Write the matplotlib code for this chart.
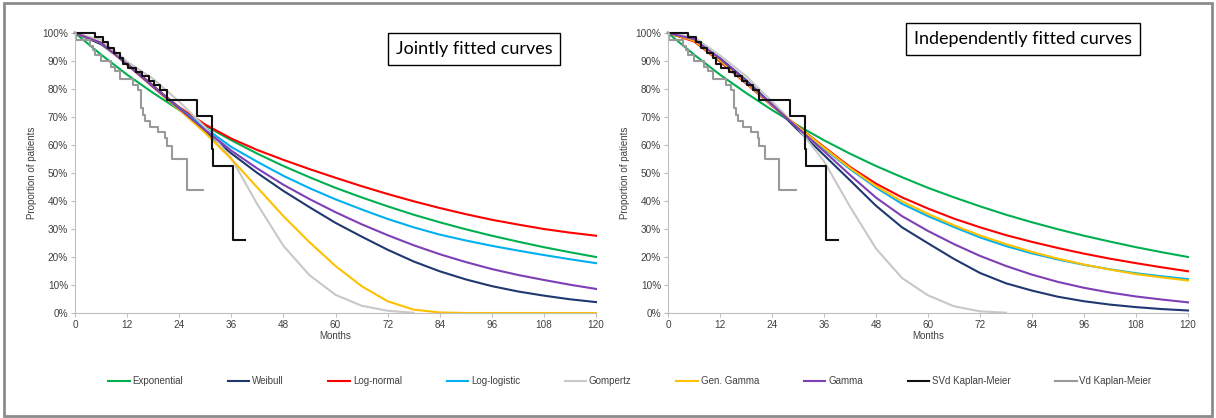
import matplotlib
matplotlib.use("Agg")
import matplotlib.pyplot as plt
from matplotlib.patches import Rectangle
from matplotlib.ticker import FuncFormatter

plt.rcParams['font.family'] = ['Liberation Sans', 'DejaVu Sans']

# months at which the fitted curves are read
months = [0, 6, 12, 18, 24, 30, 36, 42, 48, 54, 60, 66, 72, 78, 84, 90, 96, 102, 108, 114, 120]
gomp_months = [0, 6, 12, 18, 24, 30, 36, 42, 48, 54, 60, 66, 72, 78]

# jointly fitted curves (%)
exp_joint = [100, 92.3, 85.1, 78.6, 72.5, 66.9, 61.7, 56.9, 52.5, 48.5, 44.7, 41.3, 38.1, 35.1, 32.4, 29.9, 27.6, 25.5, 23.5, 21.7, 20.0]
weib_joint = [100, 96.0, 89.1, 81.2, 73.0, 64.8, 57.0, 50.0, 43.6, 37.8, 32.2, 27.3, 22.6, 18.4, 14.9, 12.0, 9.6, 7.7, 6.2, 4.9, 3.9]
lnorm_joint = [100, 96.5, 89.0, 81.0, 73.5, 67.3, 62.3, 58.2, 54.7, 51.4, 48.3, 45.3, 42.5, 39.9, 37.5, 35.3, 33.3, 31.6, 30.0, 28.7, 27.6]
llogis_joint = [100, 96.5, 88.8, 80.8, 73.2, 66.0, 59.3, 54.0, 49.0, 44.6, 40.6, 37.0, 33.6, 30.6, 28.0, 25.9, 24.0, 22.3, 20.7, 19.2, 17.8]
gomp_joint = [100, 97.6, 89.8, 83.6, 75.5, 66.3, 55.3, 38.8, 24.0, 13.5, 6.5, 2.6, 0.8, 0.1]
ggamma_joint = [100, 96.5, 88.6, 80.6, 72.6, 64.3, 55.0, 44.8, 34.6, 25.3, 16.8, 9.6, 4.2, 1.2, 0.2, 0, 0, 0, 0, 0, 0]
gamma_joint = [100, 96.5, 88.7, 80.7, 73.0, 65.3, 58.0, 51.6, 45.8, 40.7, 36.0, 31.7, 27.8, 24.2, 21.0, 18.2, 15.7, 13.6, 11.8, 10.1, 8.6]

# independently fitted curves (%)
exp_indep = [100, 92.3, 85.1, 78.6, 72.5, 66.9, 61.7, 56.9, 52.5, 48.5, 44.7, 41.3, 38.1, 35.1, 32.4, 29.9, 27.6, 25.5, 23.5, 21.7, 20.0]
weib_indep = [100, 97.4, 91.0, 83.2, 74.5, 65.3, 56.4, 47.4, 38.3, 30.6, 24.9, 19.3, 14.3, 10.6, 8.0, 5.8, 4.2, 3.0, 2.1, 1.4, 0.9]
lnorm_indep = [100, 97.0, 89.8, 82.0, 74.0, 66.6, 59.3, 52.2, 46.2, 41.3, 37.3, 33.7, 30.6, 27.8, 25.4, 23.2, 21.2, 19.4, 17.8, 16.3, 14.9]
llogis_indep = [100, 97.5, 90.4, 82.4, 74.2, 66.3, 58.7, 51.4, 44.8, 39.0, 34.6, 30.7, 27.0, 23.9, 21.3, 19.1, 17.2, 15.6, 14.2, 13.1, 12.1]
gomp_indep = [100, 98.5, 92.0, 84.6, 75.6, 66.0, 54.2, 38.0, 23.0, 12.5, 6.3, 2.4, 0.6, 0.1]
ggamma_indep = [100, 97.3, 90.2, 82.3, 74.2, 66.5, 59.0, 51.8, 45.3, 39.9, 35.4, 31.3, 27.7, 24.6, 21.8, 19.4, 17.3, 15.5, 13.9, 12.7, 11.6]
gamma_indep = [100, 97.8, 90.8, 82.8, 74.4, 66.0, 57.8, 49.3, 41.2, 34.6, 29.3, 24.6, 20.4, 16.8, 13.7, 11.1, 9.0, 7.3, 5.9, 4.8, 3.8]

# Kaplan-Meier steps
svd_t = [0, 4.5, 6.4, 7.5, 9.0, 10.3, 11.0, 12.2, 14.0, 15.5, 17.0, 18.3, 19.5, 21.1, 28.2, 31.5, 31.9, 36.5, 39.2]
svd_s = [100, 98.5, 96.9, 94.5, 93.0, 91.0, 89.0, 87.5, 86.0, 84.5, 83.0, 81.5, 79.8, 76.1, 70.4, 58.5, 52.5, 26.1, 26.1]
vd_t = [0, 0.3, 3.5, 4.2, 4.6, 6.1, 8.4, 9.2, 10.4, 13.4, 14.6, 15.3, 15.7, 16.1, 17.3, 19.1, 20.7, 21.1, 22.4, 25.7, 29.5]
vd_s = [100, 97.5, 95.5, 94.0, 92.2, 89.9, 88.0, 86.3, 83.5, 81.5, 79.7, 73.2, 70.8, 68.4, 66.5, 64.5, 62.5, 59.5, 55.0, 44.0, 44.0]

colors = {"Exponential": "#00B050", "Weibull": "#1F3870", "Log-normal": "#FF0000",
          "Log-logistic": "#00B0F0", "Gompertz": "#C8C8C8", "Gen. Gamma": "#FFC000",
          "Gamma": "#7E3FB5"}

fig = plt.figure(figsize=(12.16, 4.18), dpi=100)
ax1 = fig.add_axes([75/1216, 105/418, 521/1216, 280/418])
ax2 = fig.add_axes([668/1216, 105/418, 520/1216, 280/418])

panels = [
    (ax1, exp_joint, weib_joint, lnorm_joint, llogis_joint, gomp_joint, ggamma_joint, gamma_joint),
    (ax2, exp_indep, weib_indep, lnorm_indep, llogis_indep, gomp_indep, ggamma_indep, gamma_indep),
]

for ax, ex, wb, ln, ll, gp, gg, gm in panels:
    ax.plot(months, ex, color=colors["Exponential"], lw=1.5, label="Exponential", clip_on=False)
    ax.plot(months, wb, color=colors["Weibull"], lw=1.5, label="Weibull", clip_on=False)
    ax.plot(months, ln, color=colors["Log-normal"], lw=1.5, label="Log-normal", clip_on=False)
    ax.plot(months, ll, color=colors["Log-logistic"], lw=1.5, label="Log-logistic", clip_on=False)
    ax.plot(gomp_months, gp, color=colors["Gompertz"], lw=1.5, label="Gompertz", clip_on=False)
    ax.plot(months, gg, color=colors["Gen. Gamma"], lw=1.5, label="Gen. Gamma", clip_on=False)
    ax.plot(months, gm, color=colors["Gamma"], lw=1.5, label="Gamma", clip_on=False)
    ax.plot(svd_t, svd_s, color="#111111", lw=1.5, drawstyle="steps-post", label="SVd Kaplan-Meier", clip_on=False)
    ax.plot(vd_t, vd_s, color="#9A9A9A", lw=1.5, drawstyle="steps-post", label="Vd Kaplan-Meier", clip_on=False)

    ax.set_xlim(0, 120)
    ax.set_ylim(0, 100)
    ax.set_xticks(range(0, 121, 12))
    ax.set_yticks(range(0, 101, 10))
    ax.yaxis.set_major_formatter(FuncFormatter(lambda v, p: f"{int(v)}%"))
    for s in ["top", "right"]:
        ax.spines[s].set_visible(False)
    for s in ["left", "bottom"]:
        ax.spines[s].set_color("#BFBFBF")
        ax.spines[s].set_linewidth(0.8)
    ax.tick_params(direction="out", length=3, width=0.8, color="#BFBFBF",
                   labelsize=7.2, labelcolor="#404040", pad=2)
    ax.set_xlabel("Months", fontsize=7, color="#404040", labelpad=1)
    ax.set_ylabel("Proportion of patients", fontsize=7, color="#404040", labelpad=4)

fig.text(474/1216, 1 - 49/418, "Jointly fitted curves", fontsize=13, family=["Lato", "DejaVu Sans"],
         ha="center", va="center",
         bbox=dict(boxstyle="square,pad=0.45", facecolor="white", edgecolor="black", linewidth=1))
fig.text(1023/1216, 1 - 39/418, "Independently fitted curves", fontsize=13, family=["Lato", "DejaVu Sans"],
         ha="center", va="center",
         bbox=dict(boxstyle="square,pad=0.45", facecolor="white", edgecolor="black", linewidth=1))

handles, labels = ax1.get_legend_handles_labels()
fig.legend(handles, labels, ncol=9, frameon=False, loc="center", bbox_to_anchor=(0.518, 1 - 381/418),
           fontsize=7, handlelength=2.2, columnspacing=4.6, handletextpad=0.3,
           labelcolor="#404040")

fig.patches.append(Rectangle((4/1216, 2/418), 1208/1216, 413/418, transform=fig.transFigure,
                             fill=False, edgecolor="#8C8C8C", linewidth=2))

plt.savefig("out.png", dpi=100)
